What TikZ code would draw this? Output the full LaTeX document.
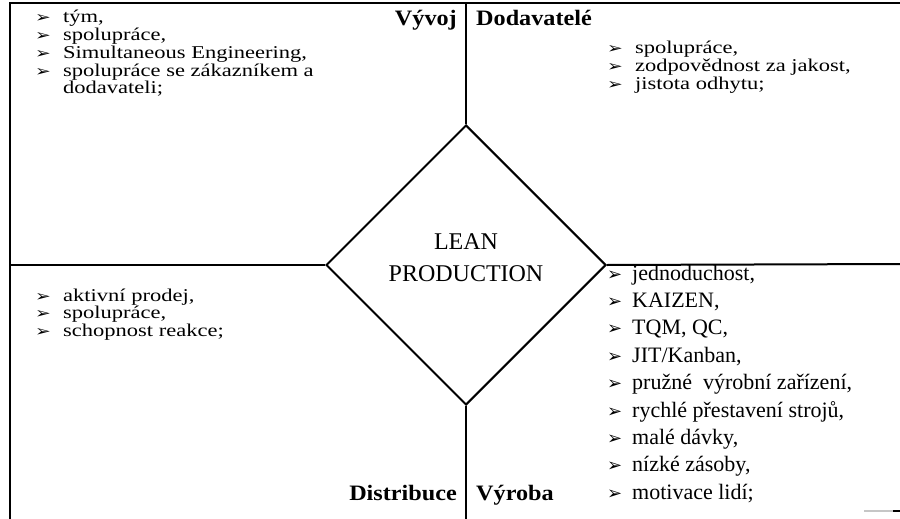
\documentclass[tikz,border=0pt]{standalone}
\usepackage{graphicx}
\usepackage{fontspec}
\setmainfont{Liberation Serif}
\newfontfamily\dvsans{DejaVu Sans}
\usetikzlibrary{shapes.geometric}
% widened text used in three of the quadrants
\newcommand\lite[1]{\scalebox{1.25}[1]{\fontsize{18}{17.7}\selectfont #1}}
\newcommand\litearr{\makebox[22.4pt][l]{\dvsans\fontsize{15}{15}\selectfont ➢}}
% plain text used in the production quadrant
\newcommand\bigarr{\makebox[25pt][l]{\dvsans\fontsize{18}{18}\selectfont ➢}}
\newcommand\headtext[1]{\scalebox{1.1}[1]{\bfseries\fontsize{22}{22}\selectfont #1}}
\tikzset{
  frame/.style={line width=2.2pt},
  rule/.style={line width=2pt},
  item/.style={anchor=base west, inner sep=0pt},
  bigitem/.style={anchor=base west, inner sep=0pt, font=\fontsize{22}{26}\selectfont},
  head/.style={inner sep=0pt},
  centre/.style={anchor=base, inner sep=0pt, font=\fontsize{24}{28}\selectfont},
}
\begin{document}
\begin{tikzpicture}[x=1pt, y=-1pt]
  \useasboundingbox (0,0) rectangle (900,519);

  % outer frame (left and top sides)
  \coordinate (tl) at (10,3);
  \coordinate (tr) at (900,3);
  \coordinate (bl) at (10,519);
  \draw[frame] (bl) -- (tl) -- (tr);

  % central diamond
  \node[diamond, draw, rule, aspect=1, minimum width=280pt, minimum height=280pt,
        inner sep=0pt] (lp) at (466,265) {};
  \node[centre] (lean) at (466,249) {LEAN};
  \node[centre] (prod) at (466,281) {PRODUCTION};

  % dividing lines
  \coordinate (topmid) at (466,3);
  \coordinate (botmid) at (466,519);
  \coordinate (leftmid) at (10,265);
  \coordinate (rightmid) at (900,264);
  \draw[rule] (lp.north) -- (topmid);
  \draw[rule] (lp.south) -- (botmid);
  \draw[rule] (lp.west) -- (leftmid);
  \draw[rule] (lp.east) -- (rightmid);
  \draw[gray!45, line width=1.4pt] (864,511) -- (893,511);
  \draw[line width=1.4pt] (893,511) -- (900,511);

  % quadrant headings
  \node[head, anchor=base east] (vyvoj) at (457,26) {\headtext{Vývoj}};
  \node[head, anchor=base west] (dodav) at (476,26) {\headtext{Dodavatelé}};
  \node[head, anchor=base east] (distr) at (457,500) {\headtext{Distribuce}};
  \node[head, anchor=base west] (vyroba) at (476,500) {\headtext{Výroba}};

  % Vývoj
  \node[item] (v1) at (35,23)   {\lite{\litearr tým,}};
  \node[item] (v2) at (35,40.7) {\lite{\litearr spolupráce,}};
  \node[item] (v3) at (35,58.4) {\lite{\litearr Simultaneous Engineering,}};
  \node[item] (v4) at (35,76.1) {\lite{\litearr spolupráce se zákazníkem a}};
  \node[item] (v5) at (63,93.8) {\lite{dodavateli;}};

  % Dodavatelé
  \node[item] (d1) at (607,54)   {\lite{\litearr spolupráce,}};
  \node[item] (d2) at (607,71.7) {\lite{\litearr zodpovědnost za jakost,}};
  \node[item] (d3) at (607,89.4) {\lite{\litearr jistota odhytu;}};

  % Distribuce
  \node[item] (s1) at (35,301)   {\lite{\litearr aktivní prodej,}};
  \node[item] (s2) at (35,318.7) {\lite{\litearr spolupráce,}};
  \node[item] (s3) at (35,336.4) {\lite{\litearr schopnost reakce;}};

  % Výroba
  \foreach \t [count=\i from 0] in {jednoduchost{,}, KAIZEN{,}, {TQM, QC,}, JIT/Kanban{,},
      pružné \ výrobní zařízení{,}, rychlé přestavení strojů{,}, malé dávky{,},
      nízké zásoby{,}, motivace lidí;}
    \node[bigitem] (p\i) at (607,280+27.4*\i) {\bigarr \t};
\end{tikzpicture}
\end{document}
